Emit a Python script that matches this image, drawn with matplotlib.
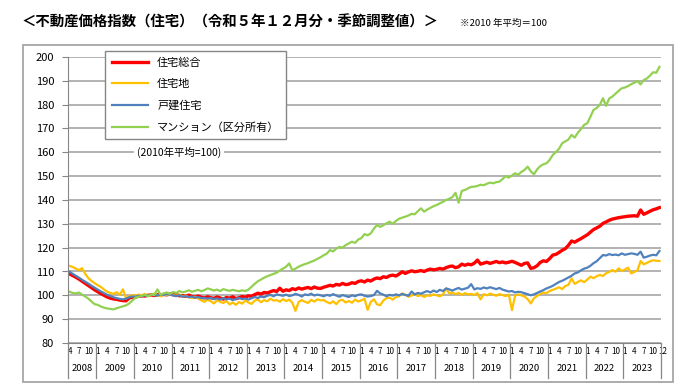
import matplotlib
matplotlib.use("Agg")
import matplotlib.pyplot as plt
import matplotlib.patches as patches
import matplotlib.transforms as transforms

plt.rcParams['font.family'] = ['Noto Sans CJK JP', 'DejaVu Sans']

# monthly values, Apr 2008 .. Dec 2023 (2010 average = 100)
total = [
    109.0, 108.3, 107.6, 106.8, 105.9, 105.0, 104.1, 103.2, 102.3,
    101.5, 100.7, 100.0, 99.3, 98.8, 98.5, 98.3, 98.0, 97.8, 97.7, 98.9, 99.2,
    99.3, 99.6, 99.8, 99.7, 100.0, 100.2, 99.9, 100.3, 100.1, 100.4, 100.2, 100.6,
    100.2, 100.4, 99.8, 99.9, 99.6, 100.1, 99.5, 99.3, 99.7, 99.2, 98.9, 99.4,
    99.0, 98.7, 99.3, 98.9, 98.4, 99.1, 98.8, 99.4, 98.6, 99.0, 99.5, 99.2,
    99.8, 99.6, 100.3, 100.9, 100.5, 101.2, 101.0, 101.5, 102.0, 101.6, 103.0, 101.7,
    102.3, 102.0, 102.8, 102.4, 103.1, 102.6, 103.0, 103.3, 102.8, 103.5, 103.0, 102.9,
    103.4, 103.8, 104.2, 103.9, 104.6, 104.3, 105.0, 104.5, 104.7, 105.3, 105.0, 105.8,
    106.1, 105.6, 106.4, 106.0, 106.8, 107.3, 107.0, 107.8, 107.5, 108.2, 108.5, 108.1,
    108.9, 109.9, 109.2, 109.8, 110.3, 109.9, 110.1, 110.4, 110.0, 110.6, 111.0, 110.7,
    110.9, 111.3, 111.0, 111.6, 112.1, 112.3, 111.6, 112.0, 113.1, 112.6, 113.1, 112.8,
    113.5, 114.8, 113.1, 113.5, 113.9, 113.4, 113.8, 114.2, 113.7, 114.0, 113.6, 113.9,
    114.3, 113.8, 113.2, 112.6, 113.4, 113.6, 111.3, 111.6, 112.4, 113.8, 114.5, 114.2,
    115.4, 116.9, 117.2, 118.0, 118.9, 119.6, 121.0, 122.8, 122.3, 123.1, 123.8, 124.6,
    125.4, 126.5, 127.6, 128.3, 129.0, 130.2, 130.8, 131.5, 132.0, 132.3, 132.6, 132.8,
    133.0, 133.2, 133.3, 133.4, 133.2, 135.8, 134.0, 134.6, 135.3, 135.9, 136.3, 136.8,
]
land = [
    112.3, 111.9, 111.2, 110.6, 111.4, 109.0, 107.2, 106.0, 105.1,
    104.2, 103.5, 102.4, 101.5, 101.0, 100.6, 101.3, 100.2, 102.5, 98.7, 99.6, 100.1,
    99.8, 100.3, 100.0, 100.6, 99.7, 100.2, 100.8, 100.1, 99.6, 100.4, 100.0, 100.5,
    100.2, 99.8, 100.4, 99.5, 99.9, 99.2, 98.8, 99.4, 98.6, 97.9, 97.3, 98.2,
    97.5, 96.6, 97.9, 97.3, 96.8, 97.6, 96.2, 97.0, 96.0, 97.2, 96.5, 97.8,
    97.0, 96.4, 97.8, 98.3, 97.1, 98.0, 97.5, 98.6, 97.8, 98.0, 97.3, 98.4,
    97.6, 98.2, 96.9, 93.5, 97.2, 98.0, 97.3, 96.8, 98.1, 97.4, 98.3, 97.9,
    98.0, 97.2, 96.6, 97.5, 96.3, 97.8, 98.1, 97.0, 97.6, 96.9, 98.2, 97.4,
    97.9, 98.6, 93.9, 97.3, 98.3, 96.2, 95.9, 97.8, 98.8, 99.0, 98.2, 99.3,
    99.6, 100.8, 100.2, 99.4, 99.9, 100.5, 99.7, 100.1, 99.3, 100.0, 99.8, 100.4,
    100.0, 99.6, 100.3, 102.9, 100.8, 101.2, 100.5, 101.0, 100.2, 100.9, 100.4, 100.6,
    100.2, 100.9, 98.3, 100.5, 100.0, 100.7, 100.3, 99.8, 100.5, 100.1, 99.7, 100.3,
    93.8, 99.9, 100.4, 100.0, 99.5, 98.4, 96.6, 98.8, 99.7, 100.6, 101.2, 100.9,
    101.8, 102.3, 102.8, 103.4, 102.6, 103.9, 104.4, 107.1, 104.8, 105.6, 106.3, 105.5,
    106.6, 107.8, 107.2, 108.0, 108.6, 108.1, 109.3, 109.8, 110.6, 109.9, 111.3, 110.2,
    110.8, 111.6, 109.2, 109.8, 110.5, 114.4, 113.0, 113.6, 114.3, 114.7, 114.5, 114.4,
]
house = [
    109.9, 109.0, 108.2, 107.4, 106.5, 105.7, 104.9, 104.0, 103.2,
    102.4, 101.6, 100.9, 100.2, 99.7, 99.2, 98.8, 98.5, 98.3, 98.6, 99.2, 99.5,
    99.4, 99.8, 99.6, 100.0, 99.8, 100.3, 100.1, 99.9, 100.4, 100.2, 100.5, 100.3,
    100.0, 99.6, 100.1, 99.4, 99.7, 99.2, 99.5, 99.0, 99.3, 98.8, 98.9, 98.6,
    98.9, 98.4, 98.7, 98.2, 98.8, 98.3, 98.6, 98.0, 98.5, 98.9, 98.4, 98.7,
    98.2, 98.8, 99.3, 98.9, 99.5, 99.2, 99.8, 100.2, 99.6, 100.4, 100.1, 99.8,
    100.3, 99.7, 100.0, 100.6, 100.2, 99.5, 100.4, 100.1, 100.7, 99.9, 100.3, 100.0,
    99.6, 100.2, 99.8, 100.5, 99.9, 99.4, 100.1, 99.7, 99.3, 100.0, 99.6, 100.2,
    100.4, 99.8, 99.5, 99.7, 100.1, 101.9, 100.8, 100.3, 99.6, 100.2, 99.9, 100.4,
    100.0, 100.6, 100.2, 99.8, 101.6, 100.4, 101.0, 100.7, 101.3, 101.8, 101.2, 102.0,
    101.4, 102.3, 101.8, 102.9, 102.5, 102.0, 102.6, 103.1, 102.4, 102.8, 103.2, 104.7,
    102.5, 103.0, 102.7, 103.3, 102.9, 103.4, 103.0, 102.6, 103.1, 102.4, 102.0, 101.6,
    101.8, 101.2, 101.5, 101.3, 100.9, 100.5, 100.0, 100.4, 101.0, 101.6, 102.2, 102.9,
    103.4, 104.0, 104.8, 105.6, 106.1, 106.8, 107.5, 108.2, 109.2, 109.6, 110.5, 111.2,
    111.6, 112.4, 113.5, 114.3, 115.6, 116.9, 116.7, 117.3, 116.9, 117.1, 116.8, 117.6,
    117.0, 117.3, 117.6, 117.4, 117.0, 118.3, 115.8, 116.2, 116.7, 117.0, 116.8, 118.6,
]
condo = [
    101.5, 101.0, 100.8, 101.2, 100.3, 99.5, 98.6, 97.4, 96.3,
    96.0, 95.3, 94.8, 94.5, 94.3, 94.1, 94.6, 95.0, 95.4, 95.8, 96.6, 97.8,
    99.0, 99.4, 99.8, 100.2, 99.6, 100.4, 100.1, 102.5, 100.3, 100.8, 101.2, 100.6,
    101.4, 101.0, 101.8, 101.3, 101.6, 102.1, 101.5, 101.9, 102.3, 101.7, 102.2, 102.9,
    102.5, 102.0, 102.4, 101.8, 102.6, 102.2, 101.9, 102.3, 102.0, 101.7, 102.1, 101.8,
    102.4, 103.6, 104.8, 105.9, 106.6, 107.4, 108.0, 108.5, 109.0, 109.5, 110.4, 111.2,
    112.0, 113.4, 110.5, 111.2, 112.0, 112.6, 113.1, 113.5, 114.1, 114.6, 115.3, 116.0,
    116.8, 117.5, 119.0, 118.4, 119.6, 120.3, 120.0, 121.1, 121.8, 122.5, 122.0, 123.4,
    124.0, 125.7, 125.2, 126.0, 128.0, 129.5, 128.7, 129.4, 130.2, 130.9, 130.0, 131.2,
    132.1, 132.6, 133.0, 133.5, 134.2, 134.0, 135.3, 136.5, 135.1, 136.0, 136.7, 137.4,
    137.9, 138.6, 139.2, 140.0, 140.5, 141.2, 143.0, 138.9, 143.8, 144.2, 144.9, 145.5,
    145.6, 145.9, 146.4, 146.2, 146.8, 147.3, 147.0, 147.5, 147.7, 148.8, 150.0, 149.4,
    150.3, 151.2, 150.6, 151.8, 152.6, 154.0, 152.0, 150.8, 152.8, 154.2, 155.0, 155.4,
    156.8, 158.9, 160.1, 161.5, 163.8, 164.6, 165.4, 167.3, 166.2, 168.2, 169.8, 171.5,
    172.2, 174.9, 177.8, 178.6, 179.9, 182.7, 179.5, 182.6, 183.4, 184.6, 185.8, 186.9,
    187.2, 187.8, 188.6, 189.2, 189.9, 188.5, 190.3, 191.0, 192.2, 193.6, 193.4, 195.9,
]
years = list(range(2008, 2024))
first_month = 4
last_month = 12

series = [
    ("住宅総合", total, "#FF0000", 2.4),
    ("住宅地", land, "#FFC000", 1.6),
    ("戸建住宅", house, "#4F81BD", 1.6),
    ("マンション（区分所有）", condo, "#92D050", 1.6),
]

fig = plt.figure(figsize=(6.9, 3.9), dpi=100)
ax = fig.add_axes([68 / 690, 1 - 343 / 390, 593 / 690, 286 / 390])

# outer frame of the chart area
fig.patches.append(patches.Rectangle((23 / 690, 1 - 382 / 390), 650 / 690, 337 / 390,
                                     transform=fig.transFigure, fill=False,
                                     edgecolor="#A6A6A6", linewidth=1.3))

fig.text(22 / 690, 1 - 22 / 390, "＜不動産価格指数（住宅）（令和５年１２月分・季節調整値）＞",
         fontsize=10.4, fontweight="bold", va="center", ha="left")
fig.text(460 / 690, 1 - 23 / 390, "※2010 年平均＝100", fontsize=6.8, va="center", ha="left")

n = len(total)
xs = list(range(n))
for label, vals, color, lw in series:
    ax.plot(xs, vals, color=color, linewidth=lw, label=label, solid_joinstyle="round")

ax.set_xlim(-0.5, n - 0.5)
ax.set_ylim(80, 200)
ax.set_yticks(range(80, 201, 10))
ax.yaxis.grid(True, color="#A6A6A6", linewidth=1.2)
ax.set_axisbelow(True)
for s in ("top", "right"):
    ax.spines[s].set_visible(False)
ax.spines["left"].set_color("#868686")
ax.spines["bottom"].set_color("#868686")
ax.tick_params(axis="y", labelsize=8, length=4, color="#868686", pad=6)

# month ticks
ticks, labels = [], []
month = first_month
for i in range(n):
    if month in (1, 4, 7, 10) or i == n - 1:
        ticks.append(i)
        labels.append(str(month))
    month = month % 12 + 1
ax.set_xticks(ticks)
ax.set_xticklabels(labels, fontsize=5.8)
ax.tick_params(axis="x", length=0, pad=3)
# last "12" sits right after "10", nudge it right like the original
last = ax.get_xticklabels()[-1]
last.set_horizontalalignment("left")
last.set_x(n - 1.3)
ticks[-1] = n - 1.3
ax.set_xticks(ticks)
ax.set_xticklabels(labels, fontsize=5.8)
ax.get_xticklabels()[-1].set_horizontalalignment("left")

# year labels and separators
trans = transforms.blended_transform_factory(ax.transData, ax.transAxes)
start = -0.5
for k, y in enumerate(years):
    months = 12 - first_month + 1 if k == 0 else (last_month if y == years[-1] else 12)
    end = start + months
    ax.text((start + end) / 2, -0.09, str(y), transform=trans, fontsize=6.8,
            ha="center", va="center")
    ax.plot([start, start], [0, -0.122], transform=trans, color="#868686",
            linewidth=0.9, clip_on=False)
    start = end
ax.plot([start, start], [0, -0.122], transform=trans, color="#868686",
        linewidth=0.9, clip_on=False)

leg = ax.legend(loc="upper left", bbox_to_anchor=(105 / 690, 1 - 51 / 390),
                bbox_transform=fig.transFigure, fontsize=8, frameon=True,
                fancybox=False, edgecolor="#868686", framealpha=1,
                handlelength=3.3, labelspacing=1.0, borderpad=0.6,
                borderaxespad=0)
leg.get_frame().set_linewidth(1.0)

ax.text(35, 160, "(2010年平均=100)", fontsize=7.5, ha="center", va="center",
        bbox=dict(facecolor="white", edgecolor="none", pad=2))

fig.savefig("out.png", dpi=100)
